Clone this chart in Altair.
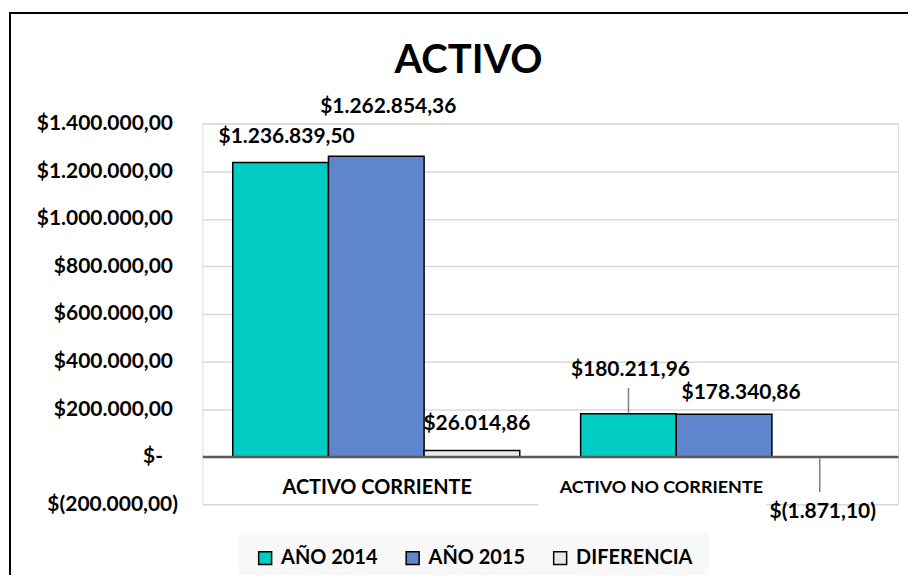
import json
import altair as alt
import pandas as pd

# ---------------- data ----------------
categories = ["ACTIVO CORRIENTE", "ACTIVO NO CORRIENTE"]
series = ["AÑO 2014", "AÑO 2015", "DIFERENCIA"]
values_2014 = [1236839.50, 180211.96]
values_2015 = [1262854.36, 178340.86]
values_dif = [26014.86, -1871.10]
labels_2014 = ["$1.236.839,50", "$180.211,96"]
labels_2015 = ["$1.262.854,36", "$178.340,86"]
labels_dif = ["$26.014,86", "$(1.871,10)"]
tick_values = [-200000, 0, 200000, 400000, 600000, 800000, 1000000, 1200000, 1400000]
tick_labels = ["$(200.000,00)", "$-", "$200.000,00", "$400.000,00", "$600.000,00",
               "$800.000,00", "$1.000.000,00", "$1.200.000,00", "$1.400.000,00"]
chart_title = "ACTIVO"
colors = ["#00CCC4", "#5F86CC", "#E8E8E8"]

# ---------------- styles ----------------
FONT = "Lato"
# label offsets (dx, dy) in pixels, per (series, category)
label_offsets = {
    ("AÑO 2014", "ACTIVO CORRIENTE"): (6, -25),
    ("AÑO 2015", "ACTIVO CORRIENTE"): (12, -49),
    ("DIFERENCIA", "ACTIVO CORRIENTE"): (5, -27),
    ("AÑO 2014", "ACTIVO NO CORRIENTE"): (2, -44),
    ("AÑO 2015", "ACTIVO NO CORRIENTE"): (17, -21),
    ("DIFERENCIA", "ACTIVO NO CORRIENTE"): (3, 55),
}
# leader lines (series, category, start offset px, end offset px)
leaders = [
    ("AÑO 2014", "ACTIVO NO CORRIENTE", -1, -26),
    ("DIFERENCIA", "ACTIVO NO CORRIENTE", 1, 35),
]

rows = []
for s, vals, labs in zip(series, [values_2014, values_2015, values_dif],
                         [labels_2014, labels_2015, labels_dif]):
    for c, v, l in zip(categories, vals, labs):
        rows.append({"categoria": c, "serie": s, "valor": v, "etiqueta": l})
df = pd.DataFrame(rows)

label_expr = "{}[indexof({}, datum.value)]".format(json.dumps(tick_labels), json.dumps(tick_values))

x_enc = alt.X(
    "categoria:N", sort=categories,
    scale=alt.Scale(paddingInner=0.175, paddingOuter=0.0875),
    axis=alt.Axis(
        title=None, orient="bottom", offset=-48, domainColor="#595959", domainWidth=2.5,
        ticks=False, tickSize=0, labelAngle=0, labelFont=FONT, labelFontWeight="bold",
        labelColor="black", labelBaseline="middle", labelLimit=400,
        labelFontSize={"condition": {"test": "datum.value == 'ACTIVO NO CORRIENTE'", "value": 18}, "value": 20},
        labelOffset={"condition": {"test": "datum.value == 'ACTIVO NO CORRIENTE'", "value": -63}, "value": 1},
        labelPadding=31, zindex=1,
    ),
)
y_enc = alt.Y(
    "valor:Q",
    scale=alt.Scale(domain=[tick_values[0], tick_values[-1]], nice=False, zero=False),
    axis=alt.Axis(
        title=None, values=tick_values, labelExpr=label_expr, domain=False, ticks=False, tickSize=0,
        grid=True, gridColor="#D9D9D9", gridWidth=1.5, labelFont=FONT, labelFontWeight="bold",
        labelFontSize=21, labelColor="black",
        labelPadding={"condition": [{"test": "datum.value == 0", "value": 40},
                                    {"test": "datum.value < 0", "value": 25}], "value": 30},
    ),
)
xo_enc = alt.XOffset("serie:N", sort=series, scale=alt.Scale(domain=series))

base = alt.Chart(df)

bars = base.mark_bar(stroke="black", strokeWidth=1.5).encode(
    x=x_enc, xOffset=xo_enc, y=y_enc,
    color=alt.Color(
        "serie:N", sort=series, scale=alt.Scale(domain=series, range=colors),
        legend=alt.Legend(
            title=None, orient="none", legendX=37, legendY=410, direction="horizontal",
            fillColor="#F8F8F8", padding=16, symbolType="square", symbolSize=169,
            symbolStrokeColor="black", symbolStrokeWidth=1.5, symbolOpacity=1,
            labelFont=FONT, labelFontWeight="bold", labelFontSize=20, labelColor="black",
            labelOffset=6, columnPadding=25, labelLimit=300,
        ),
    ),
)

one = pd.DataFrame({"k": [0]})

# white backing box behind the second category label (as in the reference)
label_box = alt.Chart(one).mark_rect(color="white").encode(
    x=alt.value(337), x2=alt.value(566), y=alt.value(345), y2=alt.value(385)
)

layers = [bars]

for (s, c), (dx, dy) in label_offsets.items():
    layers.append(
        base.transform_filter((alt.datum.serie == s) & (alt.datum.categoria == c))
        .mark_text(dx=dx, dy=dy, font=FONT, fontWeight="bold", fontSize=21, color="black",
                   baseline="middle", align="center")
        .encode(x=x_enc, xOffset=xo_enc, y=y_enc, text="etiqueta:N")
    )

for s, c, a, b in leaders:
    layers.append(
        base.transform_filter((alt.datum.serie == s) & (alt.datum.categoria == c))
        .mark_rule(color="#808080", strokeWidth=1.5, yOffset=a, y2Offset=b)
        .encode(x=x_enc, xOffset=xo_enc, y=y_enc, y2=alt.Y2("valor:Q"))
    )

layers.append(label_box)

title_mark = alt.Chart(one).mark_text(
    font=FONT, fontSize=40, fontWeight="bold", color="black", align="center", baseline="alphabetic"
).encode(x=alt.value(267), y=alt.value(-51), text=alt.value(chart_title))
layers.append(title_mark)

frame = alt.Chart(one).mark_rect(
    fillOpacity=0, stroke="black", strokeWidth=2
).encode(x=alt.value(-193), x2=alt.value(1200), y=alt.value(-111), y2=alt.value(1200))
layers.append(frame)

chart = alt.layer(*layers).properties(
    width=698, height=382,
    autosize=alt.AutoSizeParams(type="none"),
    padding={"left": 195, "top": 115, "right": 10, "bottom": 70},
).configure_view(stroke=None).configure(background="white")

chart.save("out.html", embed_options={"renderer": "svg", "actions": False})
